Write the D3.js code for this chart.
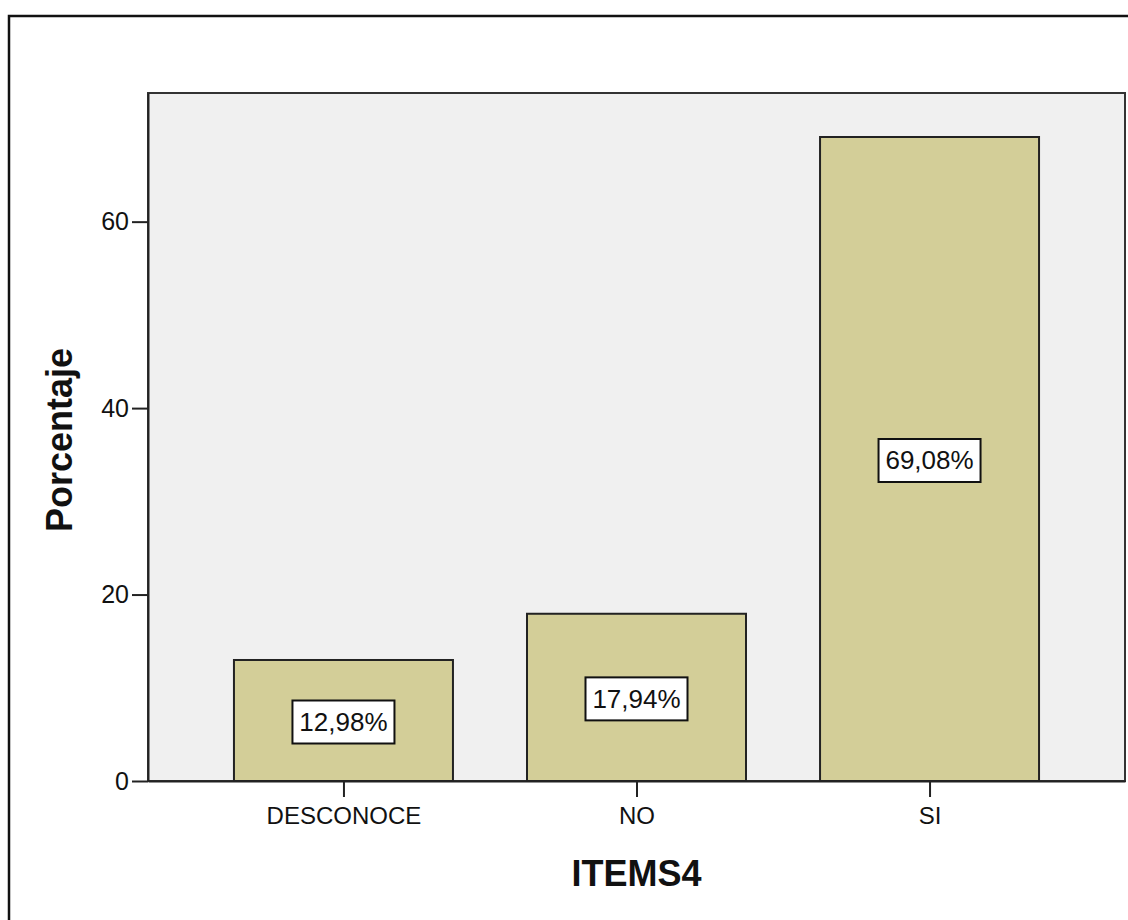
<!DOCTYPE html>
<html><head><meta charset="utf-8">
<script src="https://cdn.jsdelivr.net/npm/d3@7"></script>
<style>body{margin:0;background:#fff}svg{display:block}</style>
</head><body>
<script>
const categories = ["DESCONOCE", "NO", "SI"];
const values = [12.98, 17.94, 69.08];
const labels = ["12,98%", "17,94%", "69,08%"];
const yTicks = [0, 20, 40, 60];
const xTitle = "ITEMS4";
const yTitle = "Porcentaje";

const W = 1128, H = 920;
const svg = d3.select("body").append("svg").attr("width", W).attr("height", H);
svg.append("rect").attr("width", W).attr("height", H).attr("fill", "#fff");
// outer frame
svg.append("rect").attr("x", 9).attr("y", 16).attr("width", W + 20).attr("height", H + 20)
  .attr("fill", "none").attr("stroke", "#111").attr("stroke-width", 2.5);

const L = 148, R = 1125, T = 93, B = 781;
const x = d3.scalePoint().domain(categories).range([L, R]).padding(0.667);
const y = d3.scaleLinear().domain([0, 73.8]).range([B, T]);
const bw = 219;

svg.append("rect").attr("x", L).attr("y", T).attr("width", R - L).attr("height", B - T)
  .attr("fill", "#f0f0f0").attr("stroke", "#333").attr("stroke-width", 2);

svg.selectAll(".bar").data(values).enter().append("rect")
  .attr("x", (d, i) => x(categories[i]) - bw / 2)
  .attr("y", d => y(d))
  .attr("width", bw)
  .attr("height", d => B - y(d))
  .attr("fill", "#d3ce98").attr("stroke", "#222").attr("stroke-width", 2);

// y axis
const ya = svg.append("g").attr("transform", `translate(${L},0)`)
  .call(d3.axisLeft(y).tickValues(yTicks).tickSizeInner(16).tickSizeOuter(0).tickPadding(3).tickFormat(d3.format("d")));
ya.select(".domain").attr("stroke", "#222").attr("stroke-width", 2);
ya.selectAll(".tick line").attr("stroke", "#222").attr("stroke-width", 2);
ya.selectAll("text").attr("font-family", "Liberation Sans, Arial").attr("font-size", 25).attr("fill", "#111");

// x axis
const xa = svg.append("g").attr("transform", `translate(0,${B})`)
  .call(d3.axisBottom(x).tickSizeInner(16).tickSizeOuter(0).tickPadding(10));
xa.select(".domain").attr("stroke", "#222").attr("stroke-width", 2);
xa.selectAll(".tick line").attr("stroke", "#222").attr("stroke-width", 2);
xa.selectAll("text").attr("font-family", "Liberation Sans, Arial").attr("font-size", 24).attr("fill", "#111");

// value labels
const lg = svg.selectAll(".lab").data(values).enter().append("g")
  .attr("transform", (d, i) => `translate(${x(categories[i])},${y(d / 2) + 1})`);
lg.each(function(d, i) {
  const g = d3.select(this);
  g.append("rect").attr("x", -51).attr("y", -21).attr("width", 102).attr("height", 43)
    .attr("fill", "#fff").attr("stroke", "#111").attr("stroke-width", 2);
  g.append("text").text(labels[i]).attr("text-anchor", "middle").attr("dy", "0.36em")
    .attr("font-family", "Liberation Sans, Arial").attr("font-size", 26).attr("fill", "#111");
});

svg.append("text").attr("x", (L + R) / 2).attr("y", 886).attr("text-anchor", "middle")
  .attr("font-family", "Liberation Sans, Arial").attr("font-weight", "bold").attr("font-size", 36)
  .attr("fill", "#111").text(xTitle);
svg.append("text").attr("transform", `translate(72,440) rotate(-90)`).attr("text-anchor", "middle")
  .attr("font-family", "Liberation Sans, Arial").attr("font-weight", "bold").attr("font-size", 36)
  .attr("fill", "#111").text(yTitle);
</script>
</body></html>
